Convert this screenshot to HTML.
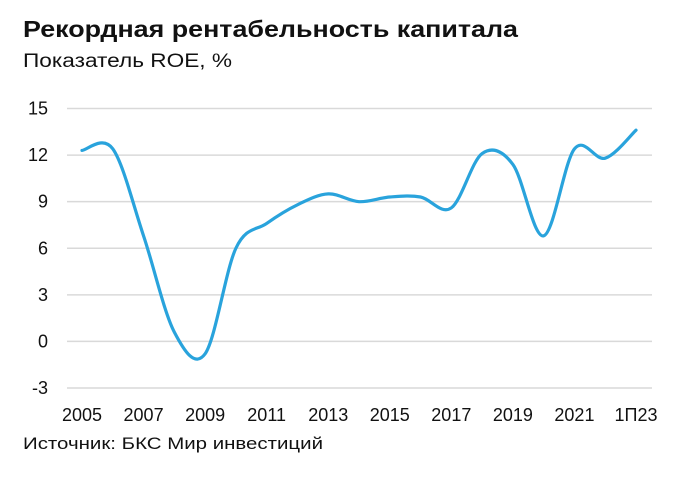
<!DOCTYPE html>
<html><head><meta charset="utf-8">
<style>
html,body{margin:0;padding:0;background:#fff;}
body{width:700px;height:472px;overflow:hidden;font-family:"Liberation Sans",sans-serif;}
svg text{font-family:"Liberation Sans",sans-serif;fill:#111;}
</style></head>
<body>
<svg id="chart" width="700" height="472" viewBox="0 0 700 472" xmlns="http://www.w3.org/2000/svg">
<text x="23" y="37" font-size="23" font-weight="bold" textLength="495" lengthAdjust="spacingAndGlyphs">Рекордная рентабельность капитала</text>
<text x="23" y="67" font-size="19" textLength="209" lengthAdjust="spacingAndGlyphs">Показатель ROE, %</text>
<g id="grid"></g>
<g id="yticks"></g>
<g id="xticks"></g>
<path id="line" fill="none" stroke="#29a3dc" stroke-width="3.2" stroke-linecap="round" stroke-linejoin="round"/>
<text x="23" y="449" font-size="17" textLength="300" lengthAdjust="spacingAndGlyphs">Источник: БКС Мир инвестиций</text>
</svg>
<script>
const categories = ["2005","2006","2007","2008","2009","2010","2011","2012","2013","2014","2015","2016","2017","2018","2019","2020","2021","2022","1П23"];
const roeValues = [12.3,12.4,6.8,0.6,-0.8,6.0,7.6,8.8,9.5,9.0,9.3,9.3,8.6,12.1,11.4,6.8,12.4,11.8,13.6];
const yTickValues = [15,12,9,6,3,0,-3];
const xLabelEvery = 2;

const NS = "http://www.w3.org/2000/svg";
const yMin = -3, yMax = 15, plotTop = 108.5, plotBottom = 388;
const xStart = 82, xEnd = 636, gridLeft = 67, gridRight = 652;
function yScale(v){ return plotBottom - (v - yMin) / (yMax - yMin) * (plotBottom - plotTop); }
function xScale(i){ return xStart + i * (xEnd - xStart) / (categories.length - 1); }

const grid = document.getElementById('grid');
const yt = document.getElementById('yticks');
yTickValues.forEach(v => {
  const y = yScale(v);
  const l = document.createElementNS(NS,'line');
  
  
  l.setAttribute('x1', gridLeft); l.setAttribute('x2', gridRight);
  l.setAttribute('y1', y); l.setAttribute('y2', y);
  l.setAttribute('stroke', '#d9d9d9'); l.setAttribute('stroke-width', '1.5');
  grid.appendChild(l);
  const t = document.createElementNS(NS,'text');
  
  
  t.setAttribute('x', 48); t.setAttribute('y', y + 6);
  t.setAttribute('text-anchor', 'end'); t.setAttribute('font-size', '18');
  t.textContent = v;
  yt.appendChild(t);
});

const xt = document.getElementById('xticks');
categories.forEach((c, i) => {
  if (i % xLabelEvery !== 0) return;
  const t = document.createElementNS(NS,'text');
  
  
  t.setAttribute('x', xScale(i)); t.setAttribute('y', 421);
  t.setAttribute('text-anchor', 'middle'); t.setAttribute('font-size', '18');
  t.textContent = c;
  xt.appendChild(t);
});

const pts = roeValues.map((v, i) => [xScale(i), yScale(v)]);
let d = 'M' + pts[0][0] + ',' + pts[0][1];
for (let i = 0; i < pts.length - 1; i++) {
  const p0 = pts[i - 1] || pts[i], p1 = pts[i], p2 = pts[i + 1], p3 = pts[i + 2] || p2;
  const k = 6;
  const c1 = [p1[0] + (p2[0] - p0[0]) / k, p1[1] + (p2[1] - p0[1]) / k];
  const c2 = [p2[0] - (p3[0] - p1[0]) / k, p2[1] - (p3[1] - p1[1]) / k];
  d += ' C' + c1[0] + ',' + c1[1] + ' ' + c2[0] + ',' + c2[1] + ' ' + p2[0] + ',' + p2[1];
}
document.getElementById('line').setAttribute('d', d);
</script>
</body></html>
